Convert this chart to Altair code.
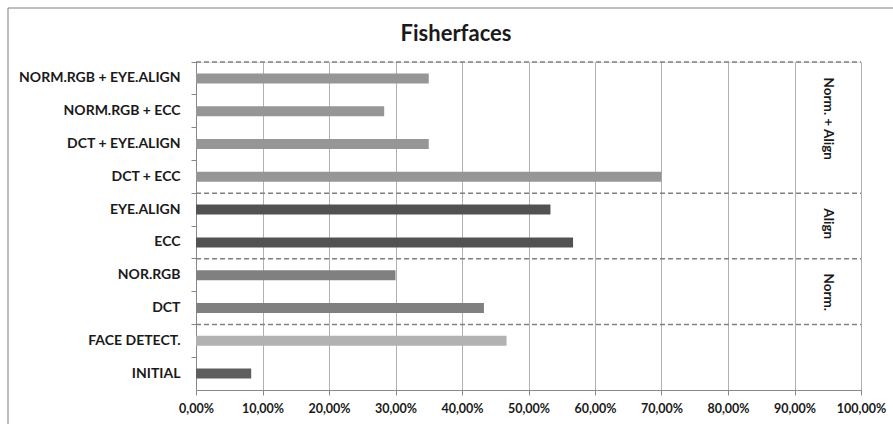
import altair as alt
import pandas as pd

labels = ["NORM.RGB + EYE.ALIGN", "NORM.RGB + ECC", "DCT + EYE.ALIGN", "DCT + ECC",
          "EYE.ALIGN", "ECC", "NOR.RGB", "DCT", "FACE DETECT.", "INITIAL"]
values = [35.0, 28.3, 35.0, 70.0, 53.3, 56.7, 30.0, 43.3, 46.7, 8.3]
colors = ["#969696", "#969696", "#969696", "#969696", "#525252", "#525252",
          "#808080", "#808080", "#b2b2b2", "#5e5e5e"]
boundaries = ["NORM.RGB + EYE.ALIGN", "EYE.ALIGN", "NOR.RGB", "FACE DETECT."]
group_names = ["Norm. + Align", "Align", "Norm."]
group_anchor = ["NORM.RGB + ECC", "EYE.ALIGN", "DCT"]
group_band = [0.73, 0.93, 0.02]
x_ticks = [0, 10, 20, 30, 40, 50, 60, 70, 80, 90, 100]
title_text = "Fisherfaces"

W, H = 665, 328
FONT = "Lato"
LBL = 14
XLBL = 12.5

df = pd.DataFrame({"label": labels, "value": values})
ydom = alt.Scale(domain=labels, paddingInner=0, paddingOuter=0)

bars = alt.Chart(df).mark_bar(size=10).encode(
    y=alt.Y("label:N", sort=labels, scale=ydom, title=None,
            axis=alt.Axis(bandPosition=0, tickSize=5, tickColor="#888888",
                          domainColor="#888888", labelFont=FONT, labelFontSize=LBL,
                          labelFontWeight="bold", labelColor="#1a1a1a",
                          labelPadding=11, grid=False, labelLimit=300)),
    x=alt.X("value:Q", scale=alt.Scale(domain=[0, 100], nice=False), title=None,
            axis=alt.Axis(values=x_ticks, grid=True, gridColor="#b0b0b0", gridDash=[],
                          tickSize=5, tickColor="#888888", domainColor="#888888",
                          labelFont=FONT, labelFontSize=XLBL, labelFontWeight="bold",
                          labelColor="#1a1a1a", labelPadding=7, labelOverlap=False,
                          labelFlush=False,
                          labelExpr="replace(format(datum.value, '.2f'), '.', ',') + '%'")),
    color=alt.Color("label:N", scale=alt.Scale(domain=labels, range=colors), legend=None),
)

rules = alt.Chart(pd.DataFrame({"b": boundaries})).mark_rule(
    color="#808080", strokeDash=[5, 3], strokeWidth=1.5
).encode(
    y=alt.Y("b:N", sort=labels, scale=ydom, bandPosition=0),
    x=alt.value(0), x2=alt.value(W),
)

texts = []
for name, anchor, bp in zip(group_names, group_anchor, group_band):
    texts.append(
        alt.Chart(pd.DataFrame({"g": [anchor], "t": [name]})).mark_text(
            angle=90, align="center", baseline="middle", font=FONT,
            fontSize=13.5, fontWeight="bold", color="#1a1a1a"
        ).encode(
            y=alt.Y("g:N", sort=labels, scale=ydom, bandPosition=bp),
            x=alt.datum(95.0),
            text="t:N",
        )
    )

title = alt.Chart(pd.DataFrame({"t": [title_text]})).mark_text(
    font=FONT, fontSize=22, fontWeight="bold", color="#1a1a1a",
    align="center", baseline="alphabetic"
).encode(x=alt.value(456 - 196), y=alt.value(41 - 62), text="t:N")

border = alt.Chart(pd.DataFrame({"a": [0]})).mark_rect(
    fill=None, stroke="#808080", strokeWidth=1
).encode(
    x=alt.value(8 - 196), x2=alt.value(893 - 196 + 10),
    y=alt.value(8 - 62), y2=alt.value(424 - 62 + 10),
)

chart = alt.layer(border, bars, rules, *texts, title).properties(
    width=W, height=H,
    autosize=alt.AutoSizeParams(type="none"),
    padding={"left": 196, "top": 62, "right": 32, "bottom": 34},
).configure_view(stroke=None).configure(background="white")

chart.save("out.html", embed_options={"renderer": "svg", "actions": False})
